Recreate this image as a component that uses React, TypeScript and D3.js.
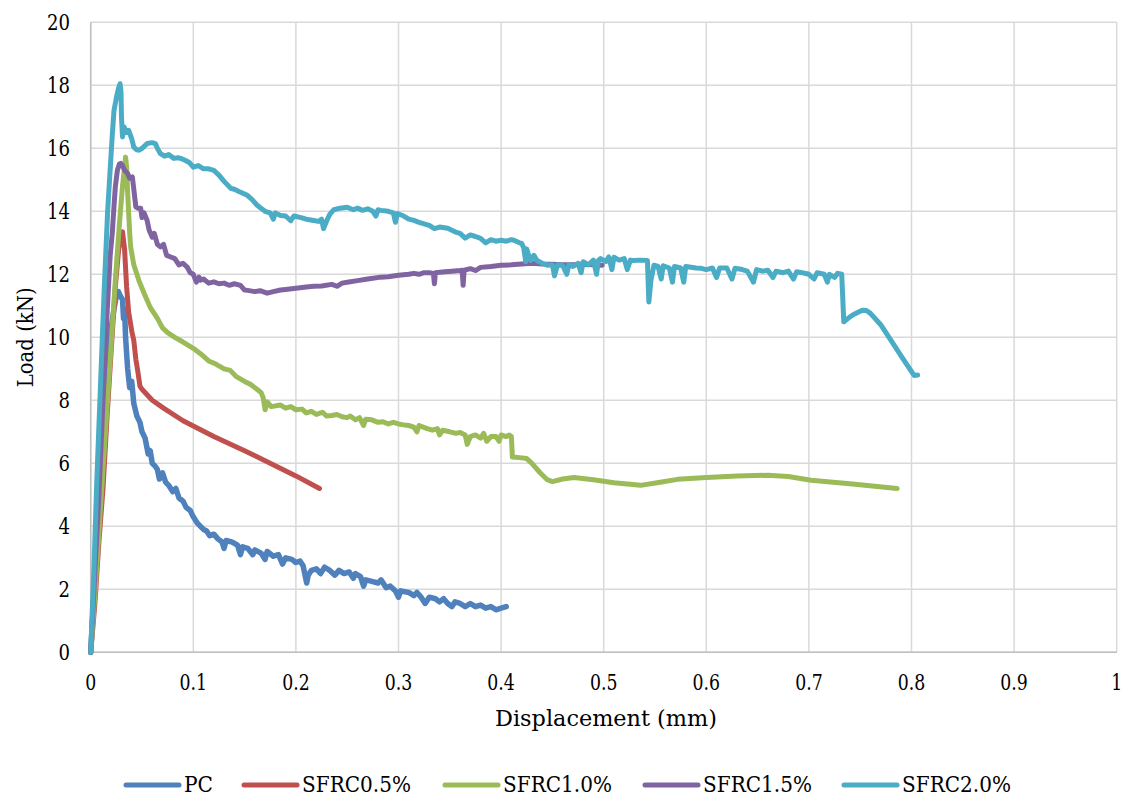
import React from "react";
import * as d3 from "d3";

type P = [number, number];

const xTicks = [0, 0.1, 0.2, 0.3, 0.4, 0.5, 0.6, 0.7, 0.8, 0.9, 1];
const yTicks = [0, 2, 4, 6, 8, 10, 12, 14, 16, 18, 20];
const seriesNames = ["PC", "SFRC0.5%", "SFRC1.0%", "SFRC1.5%", "SFRC2.0%"];
const seriesColors = ["#4F81BD", "#C0504D", "#9BBB59", "#8064A2", "#4BACC6"];

const pc: P[] = [
  [0, 0], [0.003, 1.8], [0.006, 4.2], [0.0065, 5.0], [0.008, 5.6], [0.012, 7.6], [0.016, 9.2], [0.02, 10.3],
  [0.0227, 10.9], [0.025, 11.3], [0.027, 11.45], [0.029, 11.3], [0.031, 11.2], [0.032, 10.6], [0.033, 10.9],
  [0.034, 10.0], [0.036, 9.0], [0.038, 8.4], [0.04, 8.6], [0.042, 7.9], [0.045, 7.5], [0.048, 7.3], [0.05, 7.0],
  [0.053, 6.8], [0.056, 6.3], [0.058, 6.4], [0.06, 6.0], [0.063, 5.9], [0.065, 5.8], [0.067, 5.5], [0.07, 5.7],
  [0.073, 5.4], [0.076, 5.3], [0.08, 5.1], [0.083, 5.2], [0.086, 4.9], [0.09, 4.8], [0.093, 4.6], [0.097, 4.5],
  [0.1, 4.3], [0.104, 4.1], [0.107, 4.0], [0.11, 3.9], [0.113, 3.85], [0.116, 3.7], [0.12, 3.75], [0.124, 3.6],
  [0.128, 3.5], [0.13, 3.3], [0.132, 3.55], [0.138, 3.5], [0.143, 3.4], [0.146, 3.1], [0.148, 3.35], [0.153, 3.3],
  [0.158, 3.1], [0.16, 3.25], [0.166, 3.15], [0.17, 2.95], [0.172, 3.2], [0.178, 3.05], [0.183, 3.1], [0.187, 2.8],
  [0.19, 3.0], [0.196, 2.95], [0.2, 2.85], [0.204, 2.9], [0.207, 2.75], [0.2105, 2.2], [0.212, 2.45], [0.215, 2.6],
  [0.22, 2.65], [0.224, 2.5], [0.228, 2.7], [0.233, 2.6], [0.238, 2.45], [0.242, 2.6], [0.247, 2.5], [0.252, 2.55],
  [0.256, 2.35], [0.258, 2.5], [0.263, 2.4], [0.266, 2.1], [0.268, 2.3], [0.274, 2.25], [0.28, 2.2], [0.283, 2.3],
  [0.288, 2.05], [0.292, 2.1], [0.297, 1.95], [0.3, 1.75], [0.302, 1.95], [0.31, 1.9], [0.315, 1.8], [0.318, 1.9],
  [0.322, 1.75], [0.326, 1.55], [0.33, 1.75], [0.336, 1.7], [0.34, 1.6], [0.344, 1.7], [0.348, 1.55], [0.352, 1.45],
  [0.355, 1.6], [0.36, 1.55], [0.365, 1.45], [0.37, 1.55], [0.375, 1.45], [0.38, 1.5], [0.385, 1.4], [0.39, 1.45],
  [0.395, 1.35], [0.4, 1.4], [0.405, 1.45],
];

const sfrc05: P[] = [
  [0, 0], [0.004, 1.5], [0.008, 3.5], [0.012, 5.2], [0.016, 7.5], [0.02, 9.6], [0.024, 11.6], [0.027, 12.7],
  [0.029, 13.2], [0.031, 13.35], [0.033, 12.8], [0.035, 11.6], [0.037, 10.8], [0.04, 10.2], [0.042, 9.9],
  [0.044, 9.3], [0.046, 8.9], [0.048, 8.45], [0.05, 8.35], [0.06, 8.0], [0.071, 7.75], [0.09, 7.35], [0.12, 6.85],
  [0.15, 6.4], [0.169, 6.1], [0.2, 5.6], [0.223, 5.2],
];

const sfrc10: P[] = [
  [0, 0], [0.004, 1.8], [0.008, 3.8], [0.012, 5.8], [0.016, 7.8], [0.02, 9.8], [0.024, 11.8], [0.028, 13.6],
  [0.031, 14.8], [0.033, 15.4], [0.034, 15.72], [0.035, 15.4], [0.036, 14.6], [0.038, 13.3], [0.039, 12.86],
  [0.042, 12.3], [0.047, 11.8], [0.052, 11.4], [0.058, 10.95], [0.065, 10.6], [0.07, 10.3], [0.075, 10.15],
  [0.082, 10.0], [0.09, 9.85], [0.1, 9.65], [0.107, 9.48], [0.115, 9.25], [0.122, 9.15], [0.13, 9.0], [0.136, 8.95],
  [0.142, 8.75], [0.15, 8.6], [0.156, 8.5], [0.162, 8.35], [0.166, 8.25], [0.168, 8.1], [0.17, 7.7], [0.172, 7.95],
  [0.176, 7.8], [0.185, 7.85], [0.19, 7.75], [0.195, 7.8], [0.2, 7.7], [0.206, 7.72], [0.21, 7.6], [0.215, 7.65],
  [0.22, 7.55], [0.226, 7.62], [0.23, 7.5], [0.235, 7.52], [0.24, 7.55], [0.245, 7.48], [0.25, 7.45], [0.253, 7.5],
  [0.258, 7.38], [0.262, 7.45], [0.266, 7.2], [0.268, 7.4], [0.274, 7.38], [0.28, 7.3], [0.285, 7.32], [0.29, 7.25],
  [0.295, 7.3], [0.3, 7.25], [0.305, 7.22], [0.31, 7.2], [0.315, 7.15], [0.318, 7.0], [0.32, 7.2], [0.328, 7.1],
  [0.333, 7.05], [0.338, 7.1], [0.34, 6.9], [0.343, 7.05], [0.35, 7.0], [0.356, 6.95], [0.36, 6.98], [0.365, 6.9],
  [0.367, 6.6], [0.37, 6.85], [0.375, 6.9], [0.38, 6.8], [0.383, 6.95], [0.386, 6.7], [0.39, 6.85], [0.395, 6.85],
  [0.398, 6.7], [0.4, 6.9], [0.405, 6.85], [0.408, 6.9], [0.41, 6.85], [0.411, 6.2], [0.418, 6.18], [0.425, 6.15],
  [0.43, 6.0], [0.438, 5.7], [0.445, 5.48], [0.45, 5.42], [0.46, 5.5], [0.471, 5.55], [0.49, 5.48], [0.51, 5.38],
  [0.536, 5.3], [0.555, 5.4], [0.572, 5.49], [0.6, 5.55], [0.63, 5.6], [0.66, 5.62], [0.68, 5.58], [0.702, 5.46],
  [0.74, 5.35], [0.786, 5.2],
];

const sfrc15: P[] = [
  [0, 0], [0.004, 2.5], [0.008, 5], [0.012, 8], [0.016, 10.8], [0.019, 12.6], [0.021, 13.3], [0.023, 14.3],
  [0.024, 14.77], [0.026, 15.3], [0.028, 15.5], [0.0292, 15.52], [0.031, 15.45], [0.033, 15.3], [0.036, 15.2],
  [0.038, 15.05], [0.0406, 15.09], [0.042, 14.7], [0.044, 14.14], [0.046, 14.1], [0.0487, 14.1], [0.05, 13.8],
  [0.052, 13.95], [0.055, 13.71], [0.057, 13.4], [0.06, 13.18], [0.062, 13.3], [0.065, 12.95], [0.068, 12.87],
  [0.071, 12.95], [0.074, 12.6], [0.078, 12.55], [0.082, 12.5], [0.086, 12.3], [0.09, 12.35], [0.094, 12.23],
  [0.097, 12.05], [0.1, 12.0], [0.103, 11.75], [0.1056, 11.91], [0.107, 11.81], [0.11, 11.85], [0.115, 11.72],
  [0.12, 11.76], [0.125, 11.7], [0.13, 11.72], [0.135, 11.65], [0.14, 11.7], [0.146, 11.65], [0.15, 11.5],
  [0.153, 11.49], [0.16, 11.45], [0.165, 11.48], [0.172, 11.4], [0.178, 11.45], [0.185, 11.5], [0.19, 11.52],
  [0.2, 11.56], [0.21, 11.6], [0.2175, 11.62], [0.225, 11.63], [0.235, 11.68], [0.24, 11.62], [0.245, 11.72],
  [0.25, 11.75], [0.26, 11.8], [0.27, 11.85], [0.2827, 11.91], [0.29, 11.92], [0.3, 11.97], [0.31, 12.0],
  [0.315, 12.03], [0.32, 12.0], [0.325, 12.05], [0.33, 12.05], [0.334, 12.03], [0.335, 11.7], [0.336, 12.05],
  [0.345, 12.08], [0.352, 12.1], [0.36, 12.12], [0.362, 12.13], [0.363, 11.65], [0.364, 12.13], [0.37, 12.18],
  [0.375, 12.12], [0.38, 12.22], [0.39, 12.25], [0.4, 12.29], [0.41, 12.3], [0.42, 12.33], [0.43, 12.35],
  [0.44, 12.33], [0.45, 12.32], [0.46, 12.3], [0.47, 12.3], [0.48, 12.32], [0.49, 12.3], [0.4986, 12.29],
];

const sfrc20: P[] = [
  [0, 0], [0.003, 2.5], [0.006, 5.5], [0.0097, 8.6], [0.013, 11.4], [0.0165, 14.0], [0.0195, 15.6], [0.021, 16.4],
  [0.0227, 17.2], [0.025, 17.6], [0.027, 17.9], [0.0286, 18.05], [0.0295, 17.8], [0.03, 17.0], [0.031, 16.36],
  [0.032, 16.6], [0.0325, 16.68], [0.035, 16.5], [0.037, 16.57], [0.04, 16.3], [0.042, 16.04], [0.045, 15.95],
  [0.047, 15.94], [0.05, 16.0], [0.055, 16.15], [0.06, 16.18], [0.063, 16.15], [0.065, 16.0], [0.068, 15.83],
  [0.072, 15.75], [0.076, 15.8], [0.081, 15.68], [0.085, 15.7], [0.0877, 15.68], [0.092, 15.62], [0.096, 15.55],
  [0.1, 15.4], [0.105, 15.45], [0.11, 15.35], [0.115, 15.35], [0.12, 15.3], [0.125, 15.15], [0.13, 14.95],
  [0.1365, 14.73], [0.14, 14.7], [0.145, 14.62], [0.15, 14.55], [0.153, 14.5], [0.158, 14.35], [0.162, 14.2],
  [0.166, 14.1], [0.17, 14.0], [0.175, 13.95], [0.178, 13.75], [0.18, 13.95], [0.185, 13.87], [0.19, 13.85],
  [0.195, 13.7], [0.198, 13.85], [0.205, 13.8], [0.21, 13.75], [0.2175, 13.71], [0.222, 13.68], [0.225, 13.75],
  [0.227, 13.45], [0.23, 13.7], [0.233, 13.9], [0.237, 14.05], [0.243, 14.1], [0.25, 14.13], [0.256, 14.05],
  [0.26, 14.1], [0.265, 14.03], [0.27, 14.08], [0.275, 14.0], [0.278, 13.85], [0.28, 14.05], [0.283, 14.03],
  [0.29, 14.0], [0.295, 13.95], [0.297, 13.65], [0.299, 13.93], [0.305, 13.85], [0.31, 13.75], [0.315, 13.71],
  [0.32, 13.65], [0.325, 13.6], [0.33, 13.55], [0.335, 13.45], [0.34, 13.5], [0.348, 13.46], [0.355, 13.35],
  [0.36, 13.3], [0.365, 13.15], [0.37, 13.25], [0.375, 13.2], [0.38, 13.14], [0.385, 13.0], [0.39, 13.1],
  [0.395, 13.05], [0.4, 13.08], [0.405, 13.05], [0.41, 13.1], [0.4125, 13.08], [0.418, 13.0], [0.42, 12.98],
  [0.422, 12.85], [0.424, 12.4], [0.425, 12.8], [0.427, 12.6], [0.429, 12.44], [0.432, 12.6], [0.435, 12.44],
  [0.44, 12.35], [0.445, 12.29], [0.45, 12.3], [0.452, 11.95], [0.455, 12.3], [0.46, 12.28], [0.464, 12.0],
  [0.466, 12.3], [0.47, 12.25], [0.475, 12.35], [0.478, 12.05], [0.48, 12.4], [0.485, 12.3], [0.49, 12.45],
  [0.493, 12.0], [0.495, 12.45], [0.497, 12.5], [0.502, 12.4], [0.505, 12.55], [0.508, 12.15], [0.51, 12.54],
  [0.515, 12.45], [0.52, 12.5], [0.523, 12.15], [0.526, 12.45], [0.529, 12.44], [0.535, 12.45], [0.5426, 12.44],
  [0.544, 11.12], [0.546, 11.8], [0.549, 12.29], [0.553, 12.25], [0.556, 11.85], [0.558, 12.27], [0.564, 12.2],
  [0.567, 11.75], [0.569, 12.25], [0.575, 12.2], [0.578, 11.75], [0.58, 12.25], [0.59, 12.2], [0.595, 12.19],
  [0.6, 12.15], [0.606, 12.2], [0.61, 11.9], [0.613, 12.2], [0.62, 12.2], [0.625, 11.85], [0.628, 12.19],
  [0.635, 12.15], [0.64, 12.1], [0.646, 11.75], [0.649, 12.15], [0.655, 12.1], [0.66, 12.13], [0.665, 11.9],
  [0.668, 12.1], [0.675, 12.05], [0.68, 12.1], [0.685, 11.85], [0.688, 12.08], [0.692, 12.06], [0.7, 12.0],
  [0.705, 11.85], [0.708, 12.05], [0.715, 12.0], [0.718, 11.75], [0.72, 12.0], [0.725, 11.9], [0.728, 12.03],
  [0.732, 12.0], [0.734, 10.49], [0.74, 10.65], [0.745, 10.75], [0.752, 10.86], [0.756, 10.85], [0.76, 10.76],
  [0.77, 10.4], [0.78, 9.9], [0.79, 9.4], [0.8025, 8.79], [0.806, 8.8],
];

const allSeries: P[][] = [pc, sfrc05, sfrc10, sfrc15, sfrc20];

const W = 1130;
const H = 796;
const left = 90.7;
const right = 1116.7;
const top = 22.3;
const bottom = 652.3;
const FONT = '"DejaVu Serif", serif';

// approximate Times-like advance widths (em) used to squeeze the wider available serif
const numWidth = (s: string, fs: number) =>
  s.split("").reduce((a, c) => a + (c === "." ? 0.25 : 0.5), 0) * fs;

export default function App() {
  const x = d3.scaleLinear().domain([0, 1]).range([left, right]);
  const y = d3.scaleLinear().domain([0, 20]).range([bottom, top]);
  const line = d3
    .line<P>()
    .x((d) => x(d[0]))
    .y((d) => y(d[1]));

  const legendX = [126, 244, 445, 645, 844];
  const legendW = [29, 109, 109, 109, 109];
  const txt = { fontFamily: FONT, fill: "#000" } as React.CSSProperties;

  return (
    <svg
      width={W}
      height={H}
      style={{ position: "absolute", left: 0, top: 0, background: "#fff", fontFamily: FONT }}
    >
      <rect x={0} y={0} width={W} height={H} fill="#fff" />
      {yTicks.map((t) => (
        <line key={"gy" + t} x1={left} x2={right} y1={y(t)} y2={y(t)} stroke="#D9D9D9" strokeWidth={1.5} />
      ))}
      {xTicks.map((t) => (
        <line key={"gx" + t} x1={x(t)} x2={x(t)} y1={top} y2={bottom} stroke="#D9D9D9" strokeWidth={1.5} />
      ))}
      <line x1={left} x2={left} y1={top} y2={bottom} stroke="#BFBFBF" strokeWidth={1.5} />
      <line x1={left} x2={right} y1={bottom} y2={bottom} stroke="#BFBFBF" strokeWidth={1.5} />

      {yTicks.map((t) => (
        <text
          key={"ty" + t}
          x={70}
          y={y(t) + 7.5}
          textAnchor="end"
          fontSize={22}
          style={txt}
          textLength={numWidth(String(t), 23)}
          lengthAdjust="spacingAndGlyphs"
        >
          {t}
        </text>
      ))}
      {xTicks.map((t) => (
        <text
          key={"tx" + t}
          x={x(t)}
          y={690}
          textAnchor="middle"
          fontSize={22}
          style={txt}
          textLength={numWidth(String(t), 22)}
          lengthAdjust="spacingAndGlyphs"
        >
          {t}
        </text>
      ))}
      <text
        x={606}
        y={726}
        textAnchor="middle"
        fontSize={23}
        style={txt}
        textLength={222}
        lengthAdjust="spacingAndGlyphs"
      >
        Displacement (mm)
      </text>
      <text
        transform={`translate(33, ${(top + bottom) / 2}) rotate(-90)`}
        textAnchor="middle"
        fontSize={23}
        style={txt}
        textLength={100}
        lengthAdjust="spacingAndGlyphs"
      >
        Load (kN)
      </text>

      {allSeries.map((s, i) => (
        <path
          key={"s" + i}
          d={line(s) || ""}
          fill="none"
          stroke={seriesColors[i]}
          strokeWidth={i === 0 ? 5.5 : 5}
          strokeLinejoin="round"
          strokeLinecap="round"
        />
      ))}

      {seriesNames.map((n, i) => (
        <g key={"lg" + i}>
          <line
            x1={legendX[i]}
            x2={legendX[i] + 53}
            y1={785}
            y2={785}
            stroke={seriesColors[i]}
            strokeWidth={5}
            strokeLinecap="round"
          />
          <text
            x={legendX[i] + 58}
            y={792}
            fontSize={23}
            style={txt}
            textLength={legendW[i]}
            lengthAdjust="spacingAndGlyphs"
          >
            {n}
          </text>
        </g>
      ))}
    </svg>
  );
}
